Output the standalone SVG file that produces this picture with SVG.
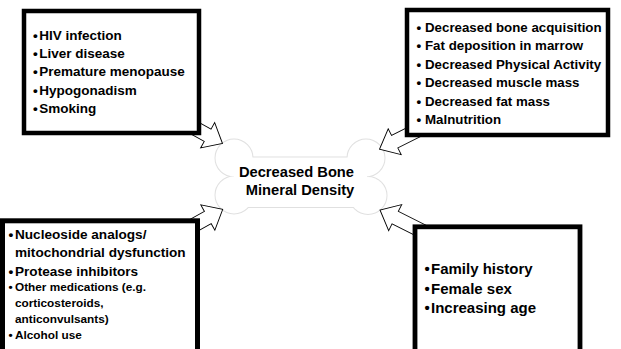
<svg xmlns="http://www.w3.org/2000/svg" width="621" height="349" viewBox="0 0 621 349">
  <defs>
    <style>
      .box { fill: #ffffff; stroke: #000000; }
      .t { font-family: "Liberation Sans", Arial, sans-serif; font-weight: bold; fill: #000000; }
      .arrow { fill: #ffffff; stroke: #000000; stroke-width: 0.9; stroke-linejoin: miter; }
      .bone-edge { fill: none; stroke: #e0e0e0; stroke-width: 2; }
      .bone-fill { fill: #ffffff; stroke: none; }
    </style>
    <!-- notched block arrow pointing along +x, tip at (55,0) -->
    <polygon id="blockArrow" class="arrow" points="0,-7 38,-7 38,-14.5 55,0 38,14.5 38,7 0,7"/>
  </defs>

  <rect width="621" height="349" fill="#ffffff"/>

  <!-- central bone shape -->
  <g id="bmd">
    <g class="bone-edge">
      <rect x="234" y="157.5" width="133" height="49.5"/>
      <circle cx="234" cy="158" r="18.5"/>
      <circle cx="234" cy="195" r="18.5"/>
      <circle cx="366" cy="158" r="18.5"/>
      <circle cx="368" cy="195.5" r="18.5"/>
    </g>
    <g class="bone-fill">
      <rect x="234" y="157.5" width="133" height="49.5"/>
      <circle cx="234" cy="158" r="18.5"/>
      <circle cx="234" cy="195" r="18.5"/>
      <circle cx="366" cy="158" r="18.5"/>
      <circle cx="368" cy="195.5" r="18.5"/>
    </g>
    <text class="t" font-size="14.7" text-anchor="middle">
      <tspan x="298.5" y="176.7">Decreased Bone</tspan>
      <tspan x="300" y="194.5">Mineral Density</tspan>
    </text>
  </g>

  <!-- connectors: block arrows from each factor box toward the bone -->
  <g id="connectors">
    <use href="#blockArrow" transform="translate(222.5,143.5) rotate(29) translate(-55,0)"/>
    <use href="#blockArrow" transform="translate(379.5,149.3) rotate(153.4) translate(-55,0)"/>
    <use href="#blockArrow" transform="translate(222.7,209.3) rotate(-29) translate(-55,0)"/>
    <use href="#blockArrow" transform="translate(380,210) rotate(206.7) translate(-55,0)"/>
  </g>

  <!-- top-left factors -->
  <g id="box-conditions">
    <rect class="box" x="24" y="11" width="175" height="122" stroke-width="4.5"/>
    <text class="t" font-size="13.5">
      <tspan x="33" y="39.5">•</tspan><tspan x="39.3" y="39.5">HIV infection</tspan>
      <tspan x="33" y="57.9">•</tspan><tspan x="39.3" y="57.9">Liver disease</tspan>
      <tspan x="33" y="76.3">•</tspan><tspan x="39.3" y="76.3">Premature menopause</tspan>
      <tspan x="33" y="94.7">•</tspan><tspan x="39.3" y="94.7">Hypogonadism</tspan>
      <tspan x="33" y="113.1">•</tspan><tspan x="39.3" y="113.1">Smoking</tspan>
    </text>
  </g>

  <!-- top-right factors -->
  <g id="box-body">
    <rect class="box" x="407" y="10" width="201" height="125" stroke-width="4.5"/>
    <text class="t" font-size="13.3">
      <tspan x="416.5" y="31.7">•</tspan><tspan x="425" y="31.7">Decreased bone acquisition</tspan>
      <tspan x="416.5" y="50.1">•</tspan><tspan x="425" y="50.1">Fat deposition in marrow</tspan>
      <tspan x="416.5" y="68.5">•</tspan><tspan x="425" y="68.5">Decreased Physical Activity</tspan>
      <tspan x="416.5" y="87">•</tspan><tspan x="425" y="87">Decreased muscle mass</tspan>
      <tspan x="416.5" y="105.5">•</tspan><tspan x="425" y="105.5">Decreased fat mass</tspan>
      <tspan x="416.5" y="124">•</tspan><tspan x="425" y="124">Malnutrition</tspan>
    </text>
  </g>

  <!-- bottom-left factors -->
  <g id="box-drugs">
    <rect class="box" x="2.5" y="220.8" width="195" height="150" stroke-width="5"/>
    <text class="t" font-size="13.6">
      <tspan x="8.5" y="238.5">•</tspan><tspan x="15" y="238.5">Nucleoside analogs/</tspan>
      <tspan x="15" y="257">mitochondrial dysfunction</tspan>
      <tspan x="8.5" y="275.5">•</tspan><tspan x="15" y="275.5">Protease inhibitors</tspan>
    </text>
    <text class="t" font-size="11.8">
      <tspan x="8.5" y="291">•</tspan><tspan x="15" y="291">Other medications (e.g.</tspan>
      <tspan x="15" y="307">corticosteroids,</tspan>
      <tspan x="15" y="322.5">anticonvulsants)</tspan>
      <tspan x="8.5" y="338.5">•</tspan><tspan x="15" y="338.5">Alcohol use</tspan>
    </text>
  </g>

  <!-- bottom-right factors -->
  <g id="box-demographics">
    <rect class="box" x="415" y="226.8" width="165" height="150" stroke-width="4.8"/>
    <text class="t" font-size="15">
      <tspan x="424.5" y="274">•</tspan><tspan x="431" y="274">Family history</tspan>
      <tspan x="424.5" y="293.5">•</tspan><tspan x="431" y="293.5">Female sex</tspan>
      <tspan x="424.5" y="313">•</tspan><tspan x="431" y="313">Increasing age</tspan>
    </text>
  </g>
</svg>
